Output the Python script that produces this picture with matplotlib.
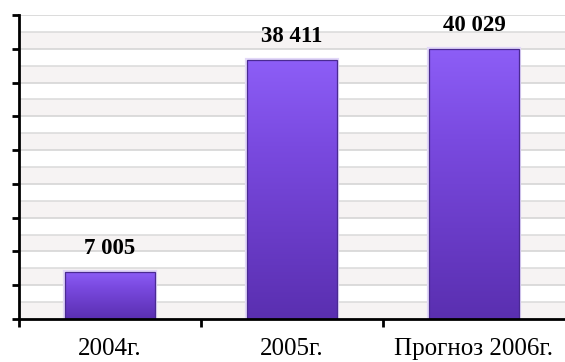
import numpy as np
import matplotlib
matplotlib.use("Agg")
import matplotlib.pyplot as plt
from matplotlib.colors import LinearSegmentedColormap

categories = ["2004г.", "2005г.", "Прогноз 2006г."]
values = [7005, 38411, 40029]
value_labels = ["7 005", "38 411", "40 029"]

y_max = 45000
y_step = 5000

fig = plt.figure(figsize=(5.65, 3.62), dpi=100)
ax = fig.add_axes([19 / 565, 43 / 362, 546 / 565, 304 / 362])

x = np.arange(len(categories))
ax.set_xlim(-0.5, len(categories) - 0.5)
ax.set_ylim(0, y_max)

# alternating light bands and grid lines
for k in range(0, y_max, y_step):
    ax.axhspan(k, k + y_step / 2, color="#f6f3f3", zorder=0, lw=0)
for k in range(y_step, y_max + 1, y_step):
    ax.axhline(k, color="#d6d6d6", lw=1.2, zorder=1)
for k in range(y_step // 2, y_max, y_step):
    ax.axhline(k, color="#dadada", lw=1.1, zorder=1)

cmap = LinearSegmentedColormap.from_list(
    "violet", ["#5a2fb0", "#6a3cc8", "#7a4ae0", "#8d5ef7"])
grad = np.linspace(0, 1, 256).reshape(-1, 1)

width = 0.49
# soft halo behind bars
ax.bar(x, values, width=width, color="none", edgecolor="#e2d8f8", lw=3.0, zorder=2)
bars = ax.bar(x, values, width=width, color="none", edgecolor="#4a2a92", lw=0.9, zorder=4)
for b in bars:
    x0, y0 = b.get_x(), b.get_y()
    im = ax.imshow(grad, cmap=cmap, origin="lower", aspect="auto",
                   extent=(x0, x0 + b.get_width(), y0, y0 + b.get_height()),
                   zorder=3, interpolation="bilinear")
    im.set_clip_path(b)
ax.set_xlim(-0.5, len(categories) - 0.5)
ax.set_ylim(0, y_max)

for xi, v, lab in zip(x, values, value_labels):
    ax.annotate(lab, (xi, v), xytext=(0, 9), textcoords="offset points",
                ha="center", va="bottom", fontsize=16.5, fontweight="bold",
                family="Liberation Serif", color="black", annotation_clip=False)

# axes styling
for s in ["top", "right"]:
    ax.spines[s].set_visible(False)
ax.spines["left"].set_linewidth(2)
ax.spines["bottom"].set_linewidth(2)
ax.spines["left"].set_zorder(5)
ax.spines["bottom"].set_zorder(5)

ax.set_yticks(np.arange(0, y_max + 1, y_step))
ax.set_yticklabels([])
ax.tick_params(axis="y", direction="out", length=5, width=2, color="black")

ax.set_xticks(x)
ax.set_xticklabels(categories, family="Liberation Serif", fontsize=18)
ax.tick_params(axis="x", length=0, pad=14)
ax.set_xticks(np.arange(-0.5, len(categories) - 0.5, 1), minor=True)
ax.tick_params(axis="x", which="minor", direction="out", length=6, width=2, color="black")

fig.savefig("out.png", dpi=100, facecolor="white")
